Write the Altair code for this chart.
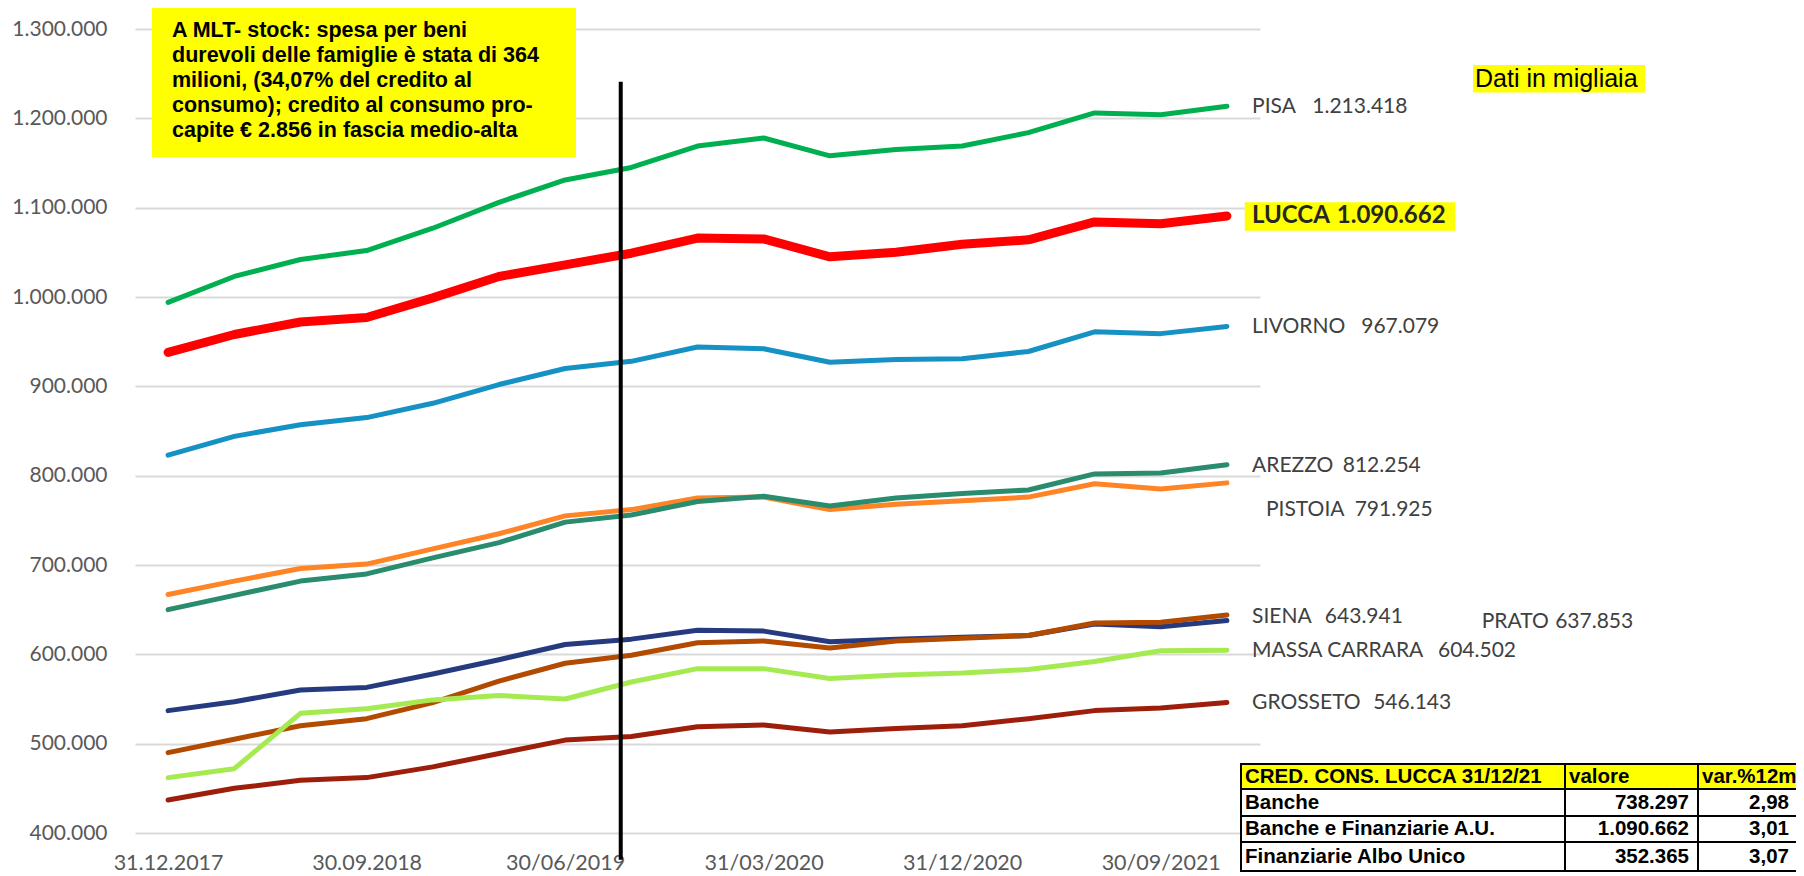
import altair as alt
import pandas as pd

# ---------------- data ----------------
dates = ["31.12.2017", "31.03.2018", "30.06.2018", "30.09.2018", "31.12.2018",
         "31.03.2019", "30/06/2019", "30/09/2019", "31/12/2019", "31/03/2020",
         "30/06/2020", "30/09/2020", "31/12/2020", "31/03/2021", "30/06/2021",
         "30/09/2021", "31/12/2021"]
tick_idx = [0, 3, 6, 9, 12, 15]

pisa = [994000, 1023000, 1042000, 1052000, 1077000, 1106000, 1131000, 1145000, 1169000,
        1178000, 1158000, 1165000, 1169000, 1184000, 1206000, 1204000, 1213418]
lucca = [938000, 958000, 972000, 977000, 999000, 1023000, 1036000, 1049000, 1066000,
         1065000, 1045000, 1050000, 1059000, 1064000, 1084000, 1082000, 1090662]
livorno = [823000, 844000, 857000, 865000, 881000, 902000, 920000, 928000, 944000,
           942000, 927000, 930000, 931000, 939000, 961000, 959000, 967079]
arezzo = [650000, 666000, 682000, 690000, 708000, 725000, 748000, 756000, 771000,
          777000, 766000, 775000, 780000, 784000, 802000, 803000, 812254]
pistoia = [667000, 682000, 696000, 701000, 718000, 735000, 755000, 762000, 775000,
           776000, 762000, 768000, 772000, 776000, 791000, 785000, 791925]
siena = [490000, 505000, 520000, 528000, 546000, 570000, 590000, 599000, 613000,
         615000, 607000, 615000, 618000, 621000, 635000, 636000, 643941]
prato = [537000, 547000, 560000, 563000, 578000, 594000, 611000, 617000, 627000,
         626000, 614000, 617000, 619000, 621000, 634000, 631000, 637853]
massa = [462000, 472000, 534000, 539000, 549000, 554000, 550000, 569000, 584000,
         584000, 573000, 577000, 579000, 583000, 592000, 604000, 604502]
grosseto = [437000, 450000, 459000, 462000, 474000, 489000, 504000, 508000, 519000,
            521000, 513000, 517000, 520000, 528000, 537000, 540000, 546143]

others = ["PISA", "LIVORNO", "PISTOIA", "AREZZO", "PRATO", "SIENA", "MASSA CARRARA", "GROSSETO"]
other_series = [pisa, livorno, pistoia, arezzo, prato, siena, massa, grosseto]
other_colors = ["#00B050", "#1591C4", "#FF8426", "#2A8C6E", "#263A80", "#B24A00", "#A6EA52", "#9E1E0C"]

label_names = ["PISA", "LUCCA", "LIVORNO", "AREZZO", "PISTOIA", "SIENA", "PRATO", "MASSA CARRARA", "GROSSETO"]
label_values = ["1.213.418", "1.090.662", "967.079", "812.254", "791.925", "643.941", "637.853", "604.502", "546.143"]

note_lines = ["A MLT- stock: spesa per beni",
              "durevoli delle famiglie è stata di 364",
              "milioni, (34,07% del credito al",
              "consumo); credito al consumo pro-",
              "capite € 2.856 in fascia medio-alta"]

table_header = ["CRED. CONS. LUCCA 31/12/21", "valore", "var.%12m"]
table_rows = [["Banche", "738.297", "2,98"],
              ["Banche e Finanziarie A.U.", "1.090.662", "3,01"],
              ["Finanziarie Albo Unico", "352.365", "3,07"]]

# ---------------- layout (not data) ----------------
W, H = 1125, 804
# label placement in data units (x index, y value)
lab_name_x = [16.38, 16.38, 16.38, 16.38, 16.59, 16.38, 19.85, 16.38, 16.38]
lab_val_x = [17.29, 17.66, 18.03, 17.75, 17.93, 17.48, 20.96, 19.19, 18.21]
lab_y = [1213000, 1091000, 966700, 811100, 761900, 642100, 636500, 604000, 545800]

rows = []
for name, ser in zip(others, other_series):
    for i, v in enumerate(ser):
        rows.append({"city": name, "idx": i, "value": v})
df = pd.DataFrame(rows)
df_lucca = pd.DataFrame({"idx": list(range(len(lucca))), "value": lucca})

x_scale = alt.Scale(domain=[-0.5, 16.5], nice=False, zero=False)
y_scale = alt.Scale(domain=[400000, 1300000], nice=False, zero=False)

xlab_expr = "[" + ",".join("'%s'" % dates[i] for i in range(len(dates))) + "][round(datum.value)]"

x_axis = alt.Axis(values=tick_idx, labelExpr=xlab_expr, grid=False, domain=False, ticks=False,
                  labelPadding=19, labelFont="Lato", labelFontSize=21.5, labelColor="#595959",
                  labelOverlap=False, title=None)
y_axis = alt.Axis(values=list(range(400000, 1300001, 100000)),
                  labelExpr="replace(format(datum.value, ','), regexp(',', 'g'), '.')",
                  grid=True, gridColor="#D9D9D9", gridWidth=2, domain=False, ticks=False,
                  labelPadding=28, labelFont="Lato", labelFontSize=21, labelColor="#595959",
                  title=None)

lines = alt.Chart(df).mark_line(strokeWidth=5, strokeCap="round", strokeJoin="round").encode(
    x=alt.X("idx:Q", scale=x_scale, axis=x_axis),
    y=alt.Y("value:Q", scale=y_scale, axis=y_axis),
    color=alt.Color("city:N", scale=alt.Scale(domain=others, range=other_colors), legend=None),
    order=alt.Order("idx:Q"),
)

lucca_line = alt.Chart(df_lucca).mark_line(strokeWidth=9, strokeCap="round", strokeJoin="round",
                                           color="#FF0000").encode(
    x=alt.X("idx:Q", scale=x_scale),
    y=alt.Y("value:Q", scale=y_scale),
)

vline = alt.Chart(pd.DataFrame({"x": [6.84], "y": [1241000], "y2": [370000]})).mark_rule(
    color="black", strokeWidth=4).encode(
    x=alt.X("x:Q", scale=x_scale), y=alt.Y("y:Q", scale=y_scale), y2="y2:Q")

lab_df = pd.DataFrame({"name": label_names, "val": label_values, "nx": lab_name_x,
                       "vx": lab_val_x, "y": lab_y})
lab_plain = lab_df[lab_df["name"] != "LUCCA"]
lab_lucca = lab_df[lab_df["name"] == "LUCCA"]

lucca_bg = alt.Chart(pd.DataFrame({"x": [16.27], "x2": [19.45], "y": [1106100], "y2": [1074200]})).mark_rect(
    color="#FFFF00").encode(x=alt.X("x:Q", scale=x_scale), x2="x2:Q",
                            y=alt.Y("y:Q", scale=y_scale), y2="y2:Q")

name_txt = alt.Chart(lab_plain).mark_text(align="left", baseline="middle", font="Lato", fontSize=21,
                                          color="#404040").encode(
    x=alt.X("nx:Q", scale=x_scale), y=alt.Y("y:Q", scale=y_scale), text="name:N")
val_txt = alt.Chart(lab_plain).mark_text(align="left", baseline="middle", font="Lato", fontSize=21,
                                         color="#404040").encode(
    x=alt.X("vx:Q", scale=x_scale), y=alt.Y("y:Q", scale=y_scale), text="val:N")
lname_txt = alt.Chart(lab_lucca).mark_text(align="left", baseline="middle", font="Lato", fontSize=24,
                                           fontWeight="bold", color="#262626").encode(
    x=alt.X("nx:Q", scale=x_scale), y=alt.Y("y:Q", scale=y_scale), text="name:N")
lval_txt = alt.Chart(lab_lucca).mark_text(align="left", baseline="middle", font="Lato", fontSize=24,
                                          fontWeight="bold", color="#262626").encode(
    x=alt.X("vx:Q", scale=x_scale), y=alt.Y("y:Q", scale=y_scale), text="val:N")

one = pd.DataFrame({"k": [0]})


def box(x1, x2, y1, y2, fill, stroke=None, sw=0):
    kw = {"fill": fill}
    if stroke:
        kw.update(stroke=stroke, strokeWidth=sw)
    return alt.Chart(one).mark_rect(**kw).encode(
        x=alt.value(x1), x2=alt.value(x2), y=alt.value(y1), y2=alt.value(y2))


def txt(x, y, s, align="left", size=20, weight="bold", font="Liberation Sans", color="black", lh=None):
    kw = dict(align=align, baseline="middle", font=font, fontSize=size, fontWeight=weight, color=color)
    if lh:
        kw["lineHeight"] = lh
    return alt.Chart(one).mark_text(**kw).encode(x=alt.value(x), y=alt.value(y), text=alt.value(s))


layers = [lines, lucca_line, vline, lucca_bg, name_txt, val_txt, lname_txt, lval_txt]

# note box (top-left)
layers.append(box(17, 441, -24, 128, "#FFFF00"))
layers.append(txt(37, 1.5, note_lines, size=21.5, lh=25))

# "Dati in migliaia"
layers.append(box(1338, 1510, 36, 63.5, "#FFFF00"))
layers.append(txt(1340, 50, "Dati in migliaia", size=25, weight="normal"))

# table
col_b = [1106, 1430, 1563, 1665]
row_b = [735, 760, 787, 813, 842]
for r in range(4):
    for c in range(3):
        fill = "#FFFF00" if r == 0 else "white"
        layers.append(box(col_b[c], col_b[c + 1], row_b[r], row_b[r + 1], fill, "black", 2))
for r in range(4):
    cells = table_header if r == 0 else table_rows[r - 1]
    yc = (row_b[r] + row_b[r + 1]) / 2
    for c in range(3):
        if r == 0 or c == 0:
            layers.append(txt(col_b[c] + 4, yc, cells[c], size=20.5))
        else:
            right = col_b[c + 1] - 9 if c == 1 else 1654
            layers.append(txt(right, yc, cells[c], align="right", size=20.5))

chart = alt.layer(*layers).properties(
    width=W, height=H,
    autosize=alt.AutoSizeParams(type="none"),
    padding={"left": 127, "top": 21, "right": 536, "bottom": 41},
    background="white",
).configure_view(stroke=None)

chart.save("out.html", embed_options={"renderer": "svg", "actions": False})
